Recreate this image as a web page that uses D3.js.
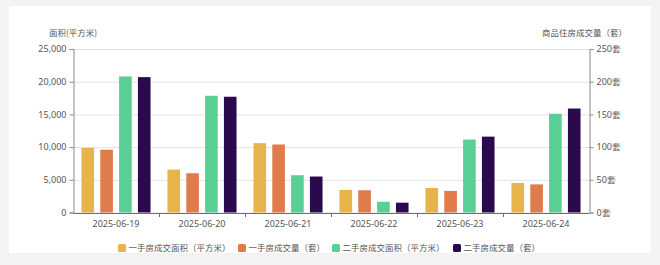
<!DOCTYPE html>
<html>
<head>
<meta charset="utf-8">
<script src="https://cdn.jsdelivr.net/npm/d3@7"></script>
<style>
  body { margin: 0; background: #f3f3f3; }
  #chart { position: absolute; left: 9px; top: 6px; width: 642px; height: 247px; background: #fff; }
  svg { font-family: "Noto Sans CJK SC", "Noto Sans", sans-serif; }
</style>
</head>
<body>
<div id="chart"></div>
<script>
  // data
  const dates = ['2025-06-19', '2025-06-20', '2025-06-21', '2025-06-22', '2025-06-23', '2025-06-24'];
  const newArea = [9880, 6560, 10600, 3450, 3750, 4520];      // 一手房成交面积（平方米）
  const newCount = [96, 60, 104, 34, 33, 43];                 // 一手房成交量（套）
  const usedArea = [20800, 17850, 5700, 1650, 11150, 15100];  // 二手房成交面积（平方米）
  const usedCount = [207, 177, 55, 15, 116, 159];             // 二手房成交量（套）
  const areaTicks = [0, 5000, 10000, 15000, 20000, 25000];
  const countTicks = [0, 50, 100, 150, 200, 250];

  const series = [
    { name: '一手房成交面积（平方米）', values: newArea, axis: 'left', color: '#e6b44a' },
    { name: '一手房成交量（套）', values: newCount, axis: 'right', color: '#e07b4b' },
    { name: '二手房成交面积（平方米）', values: usedArea, axis: 'left', color: '#57cf95' },
    { name: '二手房成交量（套）', values: usedCount, axis: 'right', color: '#2a0a4c' }
  ];

  const W = 660, H = 265;
  const margin = { left: 73, right: 71, top: 49, bottom: 52.5 };
  const svg = d3.select('body').append('svg')
    .attr('width', W).attr('height', H)
    .style('position', 'absolute').style('left', 0).style('top', 0);

  const x = d3.scaleBand().domain(dates).range([margin.left, W - margin.right]);
  const inner = d3.scaleBand().domain(d3.range(series.length))
    .range([0, x.bandwidth()]).paddingOuter(0.45).paddingInner(0.33);
  const yL = d3.scaleLinear().domain([0, 25000]).range([H - margin.bottom, margin.top]);
  const yR = d3.scaleLinear().domain([0, 250]).range([H - margin.bottom, margin.top]);

  // gridlines
  svg.append('g').selectAll('line').data(areaTicks).join('line')
    .attr('x1', margin.left).attr('x2', W - margin.right)
    .attr('y1', d => yL(d) + 0.5).attr('y2', d => yL(d) + 0.5)
    .attr('stroke', '#e3e3e3');

  // bars
  series.forEach((s, i) => {
    const y = s.axis === 'left' ? yL : yR;
    svg.append('g').selectAll('rect').data(s.values).join('rect')
      .attr('x', (d, j) => x(dates[j]) + inner(i))
      .attr('width', inner.bandwidth())
      .attr('y', d => y(d))
      .attr('height', d => y(0) - y(d))
      .attr('fill', s.color);
  });

  const axisColor = '#8a8a8a';
  const textColor = '#555';

  // left axis
  const gL = svg.append('g').attr('transform', `translate(${margin.left + 0.5},0)`)
    .call(d3.axisLeft(yL).tickValues(areaTicks).tickFormat(d3.format(',')).tickSize(4).tickPadding(3));
  // right axis
  const gR = svg.append('g').attr('transform', `translate(${W - margin.right + 0.5},0)`)
    .call(d3.axisRight(yR).tickValues(countTicks).tickFormat(d => d + '套').tickSize(4).tickPadding(3));
  // bottom axis, ticks at band edges
  const gB = svg.append('g').attr('transform', `translate(0,${H - margin.bottom + 0.5})`)
    .call(d3.axisBottom(x).tickSize(0).tickPadding(8));
  gB.selectAll('.edge').data(dates.slice(1)).join('line')
    .attr('class', 'edge')
    .attr('x1', d => x(d) + 0.5).attr('x2', d => x(d) + 0.5)
    .attr('y1', 0).attr('y2', 4);

  [gL, gR, gB].forEach(g => {
    g.selectAll('.domain').attr('stroke', axisColor);
    g.selectAll('line').attr('stroke', axisColor);
    g.selectAll('text').attr('fill', textColor).style('font-size', '9px')
      .style('font-family', '"Noto Sans", sans-serif');
  });
  gB.selectAll('.domain').attr('stroke', '#6e6e6e');
  gB.selectAll('line').attr('stroke', '#6e6e6e');

  // axis titles
  svg.append('text').attr('x', 73).attr('y', 36).attr('text-anchor', 'middle')
    .attr('fill', textColor).style('font-size', '8.5px').text('面积(平方米)');
  svg.append('text').attr('x', 627).attr('y', 36).attr('text-anchor', 'end')
    .attr('fill', textColor).style('font-size', '8.5px').text('商品住房成交量（套）');

  // legend
  const legendX = [118, 238, 332, 453];
  const lg = svg.append('g').selectAll('g').data(series).join('g')
    .attr('transform', (d, i) => `translate(${legendX[i]},248)`);
  lg.append('rect').attr('x', 0).attr('y', -4).attr('width', 8).attr('height', 8)
    .attr('rx', 1.5).attr('fill', d => d.color);
  lg.append('text').attr('x', 10.5).attr('y', 3).attr('fill', textColor)
    .style('font-size', '8.5px').text(d => d.name);
</script>
</body>
</html>
